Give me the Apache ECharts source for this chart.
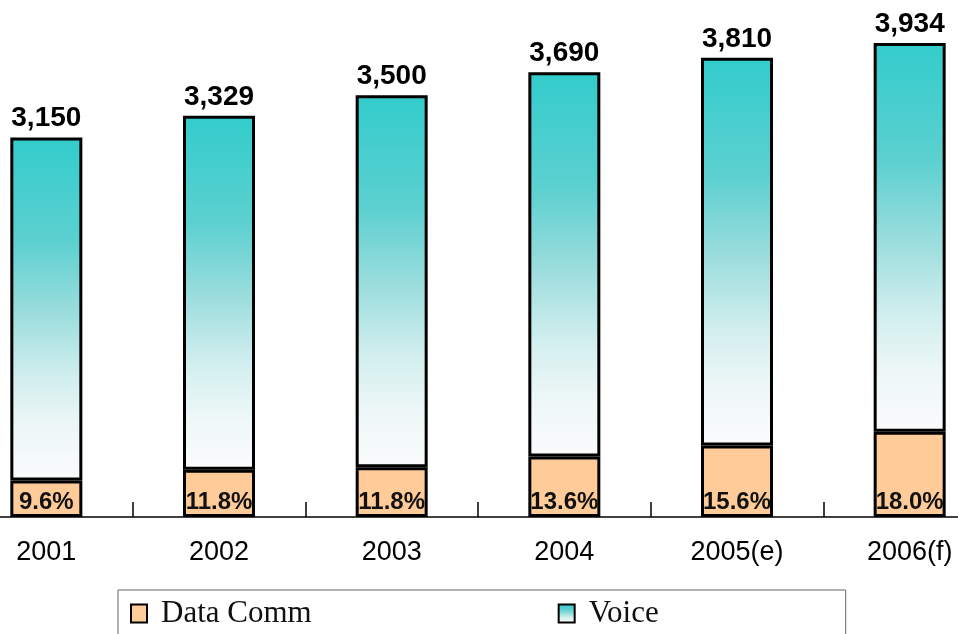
<!DOCTYPE html>
<html>
<head>
<meta charset="utf-8">
<script src="https://cdn.jsdelivr.net/npm/echarts@6/dist/echarts.min.js"></script>
<style>
html,body{margin:0;padding:0;background:#fff;}
#chart{width:958px;height:634px;}
</style>
</head>
<body>
<div id="chart"></div>
<script>
var categories = ['2001', '2002', '2003', '2004', '2005(e)', '2006(f)'];
var totals = [3150, 3329, 3500, 3690, 3810, 3934];
var shares = ['9.6%', '11.8%', '11.8%', '13.6%', '15.6%', '18.0%'];
var dataComm = [302, 393, 413, 502, 594, 708];
var voice = [2848, 2936, 3087, 3188, 3216, 3226];

var chart = echarts.init(document.getElementById('chart'));
var voiceGradient = new echarts.graphic.LinearGradient(0, 0, 0, 1, [
  {offset: 0, color: '#33CCCC'},
  {offset: 0.3, color: '#5CD0D0'},
  {offset: 0.5, color: '#98DCDC'},
  {offset: 0.7, color: '#D2EEEE'},
  {offset: 0.85, color: '#EEF7F7'},
  {offset: 1, color: '#FAFBFC'}
]);

chart.setOption({
  animation: false,
  backgroundColor: '#ffffff',
  grid: {left: -40, right: -38, top: 0, bottom: 117, containLabel: false, outerBoundsMode: 'none'},
  xAxis: {
    type: 'category',
    data: categories,
    boundaryGap: true,
    axisLine: {lineStyle: {color: '#000', width: 1.5}},
    axisTick: {show: true, inside: true, length: 15, lineStyle: {color: '#000', width: 1.5}},
    axisLabel: {
      color: '#000',
      fontFamily: 'Liberation Sans, Arial, sans-serif',
      fontSize: 27,
      margin: 22
    }
  },
  yAxis: {type: 'value', min: 0, max: 4290, show: false, splitLine: {show: false}},
  legend: {
    left: 118,
    top: 590,
    orient: 'horizontal',
    padding: [8, 187, 10, 12],
    itemGap: 246,
    itemWidth: 16,
    itemHeight: 18,
    borderColor: '#666',
    borderWidth: 1,
    textStyle: {
      fontFamily: 'Liberation Serif, Times New Roman, serif',
      fontSize: 31,
      color: '#111',
      padding: [0, 0, 0, 9]
    },
    data: [
      {name: 'Data Comm', icon: 'rect', itemStyle: {color: '#FFCC99', borderColor: '#000', borderWidth: 2}},
      {name: 'Voice', icon: 'rect', itemStyle: {borderColor: '#000', borderWidth: 2}}
    ]
  },
  series: [
    {
      name: 'Data Comm',
      type: 'bar',
      stack: 'total',
      barWidth: 72,
      data: dataComm,
      itemStyle: {color: '#FFCC99', borderColor: '#000', borderWidth: 3},
      label: {
        show: true,
        position: 'insideBottom',
        distance: 3,
        formatter: function (p) { return shares[p.dataIndex]; },
        color: '#111',
        fontFamily: 'Liberation Sans, Arial, sans-serif',
        fontWeight: 'bold',
        fontSize: 24
      }
    },
    {
      name: 'Voice',
      type: 'bar',
      stack: 'total',
      barWidth: 72,
      data: voice,
      itemStyle: {color: voiceGradient, borderColor: '#000', borderWidth: 3},
      label: {
        show: true,
        position: 'top',
        distance: 5,
        formatter: function (p) { return totals[p.dataIndex].toLocaleString('en-US'); },
        color: '#000',
        fontFamily: 'Liberation Sans, Arial, sans-serif',
        fontWeight: 'bold',
        fontSize: 28
      }
    }
  ]
});
</script>
</body>
</html>
